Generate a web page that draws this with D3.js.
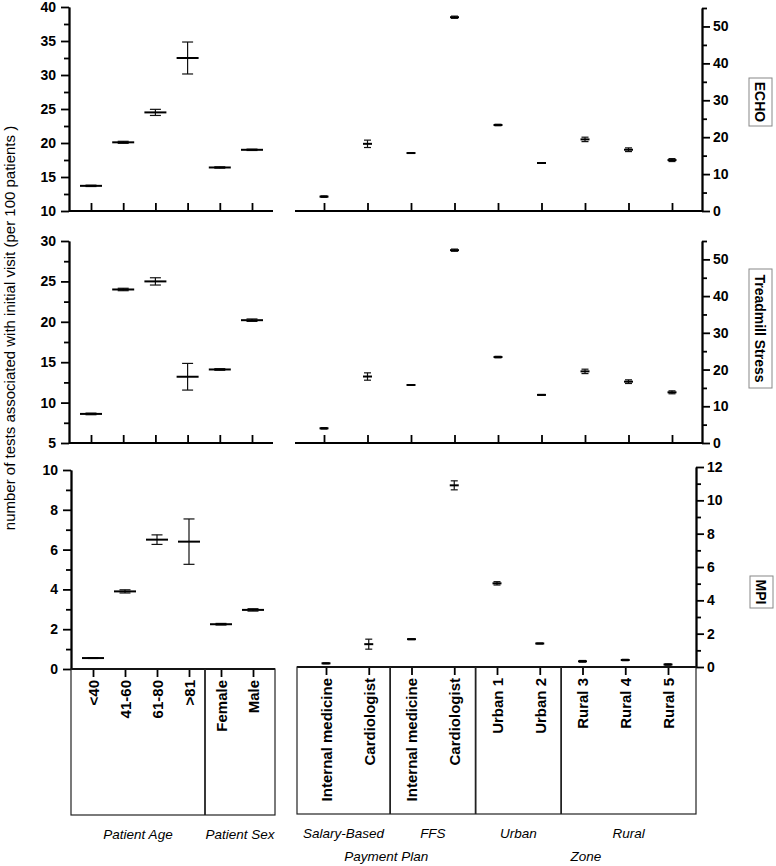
<!DOCTYPE html>
<html>
<head>
<meta charset="utf-8">
<script src="https://cdnjs.cloudflare.com/ajax/libs/d3/7.8.5/d3.min.js"></script>
<style>
  body { margin: 0; background: #fff; }
  svg { font-family: "Liberation Sans", Arial, sans-serif; }
  .axis path, .axis line { stroke: #000; stroke-width: 1.8; }
  .axis text { font-size: 14px; font-weight: bold; fill: #000; }
  .axis.cat text { font-size: 15px; }
</style>
</head>
<body>
<script>
// categories
var leftCats = ["<40", "41-60", "61-80", ">81", "Female", "Male"];
var rightCats = ["Internal medicine", "Cardiologist", "Internal medicine", "Cardiologist",
  "Urban 1", "Urban 2", "Rural 3", "Rural 4", "Rural 5"];
var leftGroups = [["Patient Age", 0, 3], ["Patient Sex", 4, 5]];
var rightGroups = [["Salary-Based", 0, 1], ["FFS", 2, 3], ["Urban", 4, 5], ["Rural", 6, 8]];
var rightSuperGroups = [["Payment Plan", 0, 3], ["Zone", 4, 8]];

// ECHO
var echoLeftMean = [13.7, 20.1, 24.5, 32.5, 16.4, 19.0];
var echoLeftErr = [0.1, 0.15, 0.45, 2.35, 0.1, 0.1];
var echoRightMean = [3.9, 18.2, 15.7, 52.5, 23.3, 13.0, 19.4, 16.6, 13.8];
var echoRightErr = [0.2, 1.0, 0.1, 0.3, 0.2, 0.1, 0.6, 0.5, 0.4];
// Treadmill Stress
var treadLeftMean = [8.6, 24.0, 25.0, 13.2, 14.1, 20.2];
var treadLeftErr = [0.1, 0.15, 0.45, 1.65, 0.1, 0.15];
var treadRightMean = [4.0, 18.1, 15.8, 52.5, 23.4, 13.1, 19.5, 16.7, 13.8];
var treadRightErr = [0.2, 1.0, 0.1, 0.3, 0.2, 0.1, 0.6, 0.5, 0.4];
// MPI
var mpiLeftMean = [0.55, 3.9, 6.5, 6.4, 2.25, 2.97];
var mpiLeftErr = [0.02, 0.08, 0.24, 1.14, 0.04, 0.06];
var mpiRightMean = [0.22, 1.37, 1.67, 10.9, 5.02, 1.41, 0.34, 0.42, 0.15];
var mpiRightErr = [0.03, 0.3, 0.03, 0.27, 0.1, 0.03, 0.05, 0.04, 0.04];

var svg = d3.select("body").append("svg").attr("width", 776).attr("height", 866);

function panel(cfg) {
  var idx = d3.range(cfg.cats.length);
  var x = d3.scalePoint().domain(idx).range(cfg.xRange);
  var y = d3.scaleLinear().domain(cfg.yDomain).range(cfg.yRange);
  var left = cfg.side == "left";
  var g = svg.append("g");

  // y axis: minor then major ticks
  var mk = left ? d3.axisLeft : d3.axisRight;
  g.append("g").attr("class", "axis")
    .attr("transform", "translate(" + cfg.yAxisX + ",0)")
    .call(mk(y).tickValues(cfg.minor).tickSize(5).tickSizeOuter(0).tickFormat(""));
  g.append("g").attr("class", "axis")
    .attr("transform", "translate(" + cfg.yAxisX + ",0)")
    .call(mk(y).tickValues(cfg.major).tickSize(8).tickSizeOuter(0).tickPadding(left ? 5 : 3));

  // x axis
  var x0 = cfg.yRange[0];
  var xa = g.append("g").attr("class", "axis cat").attr("transform", "translate(0," + x0 + ")");
  if (cfg.labels) {
    xa.call(d3.axisBottom(x).tickSize(8).tickFormat(function(i) { return cfg.cats[i]; }));
    xa.selectAll("text")
      .attr("transform", "rotate(-90)")
      .attr("x", -11).attr("y", 0).attr("dy", "0.35em")
      .style("text-anchor", "end");
  } else {
    xa.call(d3.axisBottom(x).tickSize(-8).tickFormat(""));
  }
  xa.select(".domain").remove();
  g.append("line").attr("x1", cfg.axisX[0]).attr("x2", cfg.axisX[1])
    .attr("y1", x0).attr("y2", x0).attr("stroke", "#000").attr("stroke-width", 1.8);

  // error bars
  var pts = g.selectAll(".pt").data(idx).enter().append("g").attr("class", "pt");
  pts.append("line")
    .attr("x1", function(i) { return x(i); }).attr("x2", function(i) { return x(i); })
    .attr("y1", function(i) { return y(cfg.mean[i] - cfg.err[i]); })
    .attr("y2", function(i) { return y(cfg.mean[i] + cfg.err[i]); })
    .attr("stroke", "#111").attr("stroke-width", 1.2);
  [-1, 1].forEach(function(s) {
    pts.append("line")
      .attr("x1", function(i) { return x(i) - cfg.capW / 2; })
      .attr("x2", function(i) { return x(i) + cfg.capW / 2; })
      .attr("y1", function(i) { return y(cfg.mean[i] + s * cfg.err[i]); })
      .attr("y2", function(i) { return y(cfg.mean[i] + s * cfg.err[i]); })
      .attr("stroke", "#111").attr("stroke-width", 1.2);
  });
  pts.append("line")
    .attr("x1", function(i) { return x(i) - cfg.meanW / 2; })
    .attr("x2", function(i) { return x(i) + cfg.meanW / 2; })
    .attr("y1", function(i) { return y(cfg.mean[i]); })
    .attr("y2", function(i) { return y(cfg.mean[i]); })
    .attr("stroke", "#000").attr("stroke-width", 2);

  if (cfg.title) {
    var b = cfg.title;
    svg.append("rect").attr("x", b.x).attr("y", b.y).attr("width", 23).attr("height", b.h)
      .attr("fill", "#fff").attr("stroke", "#888").attr("stroke-width", 1);
    svg.append("text")
      .attr("transform", "translate(" + (b.x + 11.5) + "," + (b.y + b.h / 2) + ") rotate(90)")
      .attr("text-anchor", "middle").attr("dy", "0.36em")
      .style("font-size", "14px").style("font-weight", "bold").text(b.text);
  }
  return x;
}

var leftTop = { cats: leftCats, xRange: [91, 252], axisX: [69, 273], side: "left", yAxisX: 69, meanW: 22, capW: 11 };
var rightTop = { cats: rightCats, xRange: [324, 672], axisX: [295, 702], side: "right", yAxisX: 702, meanW: 9, capW: 7 };

panel(Object.assign({}, leftTop, { mean: echoLeftMean, err: echoLeftErr, yDomain: [10, 40], yRange: [211, 7],
  major: d3.range(10, 41, 5), minor: d3.range(12.5, 40, 5) }));
panel(Object.assign({}, rightTop, { mean: echoRightMean, err: echoRightErr, yDomain: [0, 55], yRange: [211, 8],
  major: d3.range(0, 51, 10), minor: d3.range(5, 56, 10), title: { x: 749, y: 78, h: 48, text: "ECHO" } }));

panel(Object.assign({}, leftTop, { mean: treadLeftMean, err: treadLeftErr, yDomain: [5, 30], yRange: [443, 241],
  major: d3.range(5, 31, 5), minor: d3.range(7.5, 30, 5) }));
panel(Object.assign({}, rightTop, { mean: treadRightMean, err: treadRightErr, yDomain: [0, 55], yRange: [443, 241],
  major: d3.range(0, 51, 10), minor: d3.range(5, 56, 10), title: { x: 749, y: 269, h: 119, text: "Treadmill Stress" } }));

var xl = panel({ cats: leftCats, mean: mpiLeftMean, err: mpiLeftErr, xRange: [93, 253], axisX: [71, 275],
  side: "left", yAxisX: 71, meanW: 22, capW: 11, yDomain: [0, 10], yRange: [669, 470],
  major: d3.range(0, 11, 2), minor: d3.range(1, 10, 2), labels: true });
var xr = panel({ cats: rightCats, mean: mpiRightMean, err: mpiRightErr, xRange: [326, 668], axisX: [297, 696],
  side: "right", yAxisX: 696, meanW: 9, capW: 7, yDomain: [0, 12], yRange: [667, 467],
  major: d3.range(0, 13, 2), minor: d3.range(1, 12, 2), labels: true,
  title: { x: 750, y: 576, h: 32, text: "MPI" } });

// category group boxes
function groupBoxes(x, groups, supers, x0, x1, top, bottom) {
  svg.append("rect").attr("x", x0).attr("y", top).attr("width", x1 - x0).attr("height", bottom - top)
    .attr("fill", "none").attr("stroke", "#222").attr("stroke-width", 1.2);
  var edges = [x0];
  groups.forEach(function(gr, k) {
    if (k > 0) {
      var sx = (x(gr[1] - 1) + x(gr[1])) / 2;
      edges.push(sx);
      svg.append("line").attr("x1", sx).attr("x2", sx).attr("y1", top).attr("y2", bottom)
        .attr("stroke", "#222").attr("stroke-width", 1.8);
    }
  });
  edges.push(x1);
  groups.forEach(function(gr, k) {
    svg.append("text").attr("x", (edges[k] + edges[k + 1]) / 2).attr("y", bottom + 24)
      .attr("text-anchor", "middle").style("font-size", "13.5px").style("font-style", "italic")
      .text(gr[0]);
  });
  (supers || []).forEach(function(sg) {
    var a = groups.findIndex(function(gr) { return gr[1] == sg[1]; });
    var b = groups.findIndex(function(gr) { return gr[2] == sg[2]; });
    svg.append("text").attr("x", (edges[a] + edges[b + 1]) / 2).attr("y", bottom + 47)
      .attr("text-anchor", "middle").style("font-size", "13.5px").style("font-style", "italic")
      .text(sg[0]);
  });
}
groupBoxes(xl, leftGroups, null, 71, 275, 669, 815);
groupBoxes(xr, rightGroups, rightSuperGroups, 297, 696, 667, 814);

// shared y title
svg.append("text").attr("transform", "translate(15,328) rotate(-90)")
  .attr("text-anchor", "middle").style("font-size", "15px")
  .text("number of tests associated with initial visit (per 100 patients )");
</script>
</body>
</html>
